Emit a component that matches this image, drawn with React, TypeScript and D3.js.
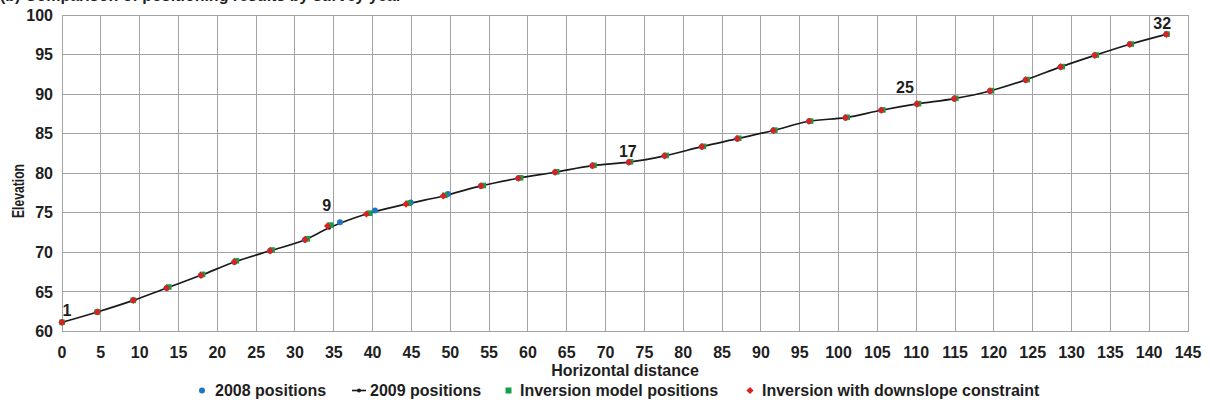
import React from "react";
import * as d3 from "d3";

// Survey point numbers along the profile
const pointIds = [1, 2, 3, 4, 5, 6, 7, 8, 9, 10, 11, 12, 13, 14, 15, 16, 17, 18, 19, 20, 21, 22, 23, 24, 25, 26, 27, 28, 29, 30, 31, 32];

// Inversion with downslope constraint (red)
const distConstraint = [0, 4.55, 9.18, 13.48, 17.9, 22.2, 26.8, 31.3, 34.2, 39.2, 44.3, 49.1, 53.95, 58.76, 63.5, 68.3, 73.0, 77.6, 82.4, 86.96, 91.6, 96.2, 100.9, 105.5, 110.1, 114.9, 119.5, 124.1, 128.6, 133.0, 137.5, 142.2];
const elevConstraint = [61.16, 62.47, 63.94, 65.5, 67.1, 68.79, 70.2, 71.6, 73.34, 74.85, 76.1, 77.13, 78.4, 79.37, 80.13, 80.96, 81.4, 82.2, 83.36, 84.37, 85.4, 86.57, 87.03, 87.96, 88.76, 89.43, 90.4, 91.8, 93.44, 94.9, 96.3, 97.56];

// 2009 positions (black line)
const dist2009 = [0, 4.55, 9.18, 13.48, 17.9, 22.2, 26.8, 31.3, 34.4, 39.2, 44.3, 49.1, 53.95, 58.76, 63.5, 68.3, 73.0, 77.6, 82.4, 86.96, 91.6, 96.2, 100.9, 105.5, 110.1, 114.9, 119.5, 124.1, 128.6, 133.0, 137.5, 142.2];
const elev2009 = [61.16, 62.47, 63.94, 65.5, 67.1, 68.79, 70.2, 71.6, 73.1, 74.85, 76.1, 77.13, 78.4, 79.37, 80.13, 80.96, 81.4, 82.2, 83.36, 84.37, 85.4, 86.57, 87.03, 87.96, 88.76, 89.43, 90.4, 91.8, 93.44, 94.9, 96.3, 97.56];

// Inversion model positions (green)
const distModel = [0, 4.55, 9.18, 13.75, 18.1, 22.45, 27.05, 31.6, 34.6, 39.6, 44.6, 49.3, 54.25, 59.05, 63.7, 68.5, 73.2, 77.8, 82.6, 87.15, 91.8, 96.4, 101.1, 105.7, 110.3, 115.1, 119.7, 124.3, 128.8, 133.2, 137.7, 142.3];
const elevModel = [61.16, 62.47, 63.94, 65.62, 67.22, 68.93, 70.3, 71.72, 73.45, 74.95, 76.2, 77.2, 78.45, 79.42, 80.18, 81.0, 81.45, 82.25, 83.4, 84.42, 85.45, 86.6, 87.07, 88.0, 88.8, 89.47, 90.44, 91.84, 93.48, 94.94, 96.33, 97.58];

// 2008 positions (blue)
const dist2008 = [0, 4.55, 9.18, 13.48, 17.9, 22.2, 26.8, 31.3, 35.8, 40.3, 44.9, 49.7, 53.95, 58.76, 63.5, 68.3, 73.0, 77.6, 82.4, 86.96, 91.6, 96.2, 100.9, 105.5, 110.1, 114.9, 119.5, 124.1, 128.6, 133.0, 137.5, 142.2];
const elev2008 = [61.16, 62.47, 63.94, 65.5, 67.1, 68.79, 70.2, 71.6, 73.8, 75.3, 76.3, 77.38, 78.4, 79.37, 80.13, 80.96, 81.4, 82.2, 83.36, 84.37, 85.4, 86.57, 87.03, 87.96, 88.76, 89.43, 90.4, 91.8, 93.44, 94.9, 96.3, 97.56];

// Point numbers written above the profile
const labelledPoints = [1, 9, 17, 25, 32];

const xTicks = d3.range(0, 146, 5);
const yTicks = d3.range(60, 101, 5);

const seriesNames = ["2008 positions", "2009 positions", "Inversion model positions", "Inversion with downslope constraint"];

// layout
const W = 1210;
const H = 405;
const plot = { left: 62, right: 1188, top: 15, bottom: 331.5 };
const labelShift: Record<number, [number, number]> = {
  1: [5, -12],
  9: [-1, -21],
  17: [-1, -11],
  25: [-12, -17],
  32: [-4, -11],
};
const FONT = "'Liberation Sans', Arial, sans-serif";
const TEXT = "#1e1e1e";
const GRID = "#a3a3a3";
const BLUE = "#1f74c4";
const GREEN = "#14a04a";
const RED = "#e0201c";

export default function App() {
  const x = d3.scaleLinear().domain([0, 145]).range([plot.left, plot.right]);
  const y = d3.scaleLinear().domain([60, 100]).range([plot.bottom, plot.top]);

  const line2009 = d3
    .line<number>()
    .x((i) => x(dist2009[i]))
    .y((i) => y(elev2009[i]))
    .curve(d3.curveMonotoneX);

  const idx = pointIds.map((_, i) => i);
  const diamond = (cx: number, cy: number, r: number) =>
    `M${cx},${cy - r}L${cx + r},${cy}L${cx},${cy + r}L${cx - r},${cy}Z`;

  const legendY = 390.5;

  return (
    <svg
      width={W}
      height={H}
      style={{ position: "absolute", left: 0, top: 0, background: "#fff" }}
      fontFamily={FONT}
      fontWeight="bold"
    >
      {/* panel title, running off the top edge */}
      <text x={0} y={1} fontSize={16} fill={TEXT}>
        (b) Comparison of positioning results by survey year
      </text>

      {/* grid */}
      <g stroke={GRID} strokeWidth={1} shapeRendering="crispEdges">
        {xTicks.map((t) => (
          <line key={"gx" + t} x1={x(t)} x2={x(t)} y1={plot.top} y2={plot.bottom} />
        ))}
        {yTicks.map((t) => (
          <line key={"gy" + t} x1={plot.left} x2={plot.right} y1={y(t)} y2={y(t)} />
        ))}
        <rect x={plot.left} y={plot.top} width={plot.right - plot.left} height={plot.bottom - plot.top} fill="none" />
      </g>

      {/* y tick labels */}
      {yTicks.map((t) => (
        <text key={"yl" + t} x={53} y={y(t)} dy="0.35em" textAnchor="end" fontSize={16} fill={TEXT}>
          {t}
        </text>
      ))}
      {/* x tick labels */}
      {xTicks.map((t) => (
        <text key={"xl" + t} x={x(t)} y={358} textAnchor="middle" fontSize={16} fill={TEXT}>
          {t}
        </text>
      ))}

      {/* axis titles */}
      <text x={(plot.left + plot.right) / 2} y={375.5} textAnchor="middle" fontSize={16} fill={TEXT}>
        Horizontal distance
      </text>
      <text
        transform={`translate(24,191) rotate(-90)`}
        textAnchor="middle"
        fontSize={16}
        fill={TEXT}
        textLength={54}
        lengthAdjust="spacingAndGlyphs"
      >
        Elevation
      </text>

      {/* 2009 profile */}
      <path d={line2009(idx) || ""} fill="none" stroke="#1a1a1a" strokeWidth={1.7} />
      {idx.map((i) => (
        <circle key={"b" + i} cx={x(dist2009[i])} cy={y(elev2009[i])} r={2} fill="#1a1a1a" />
      ))}

      {/* 2008 positions */}
      {idx.map((i) => (
        <circle key={"p8" + i} cx={x(dist2008[i])} cy={y(elev2008[i])} r={3} fill={BLUE} />
      ))}

      {/* inversion model */}
      {idx.map((i) => (
        <rect key={"m" + i} x={x(distModel[i]) - 2.8} y={y(elevModel[i]) - 2.8} width={5.6} height={5.6} fill={GREEN} />
      ))}

      {/* inversion with downslope constraint */}
      {idx.map((i) => (
        <path key={"c" + i} d={diamond(x(distConstraint[i]), y(elevConstraint[i]), 3.6)} fill={RED} />
      ))}

      {/* point numbers */}
      {labelledPoints.map((p) => {
        const i = pointIds.indexOf(p);
        const [dx, dy] = labelShift[p];
        return (
          <text
            key={"n" + p}
            x={x(distConstraint[i]) + dx}
            y={y(elevConstraint[i]) + dy}
            dy="0.35em"
            textAnchor="middle"
            fontSize={16}
            fill={TEXT}
          >
            {p}
          </text>
        );
      })}

      {/* legend */}
      <g fontSize={16} fill={TEXT}>
        <circle cx={202} cy={legendY} r={3} fill={BLUE} />
        <text x={215} y={legendY + 5.5}>{seriesNames[0]}</text>

        <line x1={352} x2={366} y1={legendY} y2={legendY} stroke="#1a1a1a" strokeWidth={1.6} />
        <circle cx={359} cy={legendY} r={2} fill="#1a1a1a" />
        <text x={370} y={legendY + 5.5}>{seriesNames[1]}</text>

        <rect x={505.5} y={legendY - 3} width={6} height={6} fill={GREEN} />
        <text x={520} y={legendY + 5.5}>{seriesNames[2]}</text>

        <path d={diamond(750, legendY, 3.6)} fill={RED} />
        <text x={762} y={legendY + 5.5}>{seriesNames[3]}</text>
      </g>
    </svg>
  );
}
